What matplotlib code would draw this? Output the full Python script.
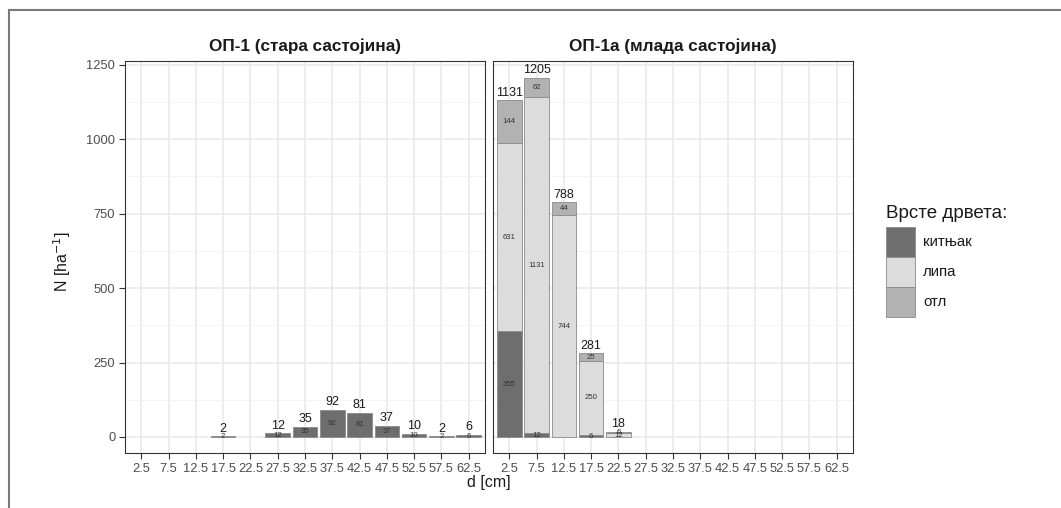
import numpy as np
import matplotlib
matplotlib.use("Agg")
import matplotlib.pyplot as plt
from matplotlib.patches import Rectangle
from matplotlib.lines import Line2D

plt.rcParams['font.family'] = ['Liberation Sans', 'DejaVu Sans']

# Diameter classes (cm)
classes = ["2.5", "7.5", "12.5", "17.5", "22.5", "27.5", "32.5",
           "37.5", "42.5", "47.5", "52.5", "57.5", "62.5"]
species = ["китњак", "липа", "отл"]
colors = ["#6e6e6e", "#dcdcdc", "#b2b2b2"]

# ОП-1 (old stand): trees per hectare by species
old_kitnjak = [0, 0, 0, 2, 0, 12, 35, 92, 81, 37, 10, 2, 6]
old_lipa    = [0] * 13
old_otl     = [0] * 13

# ОП-1а (young stand): trees per hectare by species
young_kitnjak = [355.4, 12, 0, 6, 0, 0, 0, 0, 0, 0, 0, 0, 0]
young_lipa    = [631.3, 1131, 744, 250, 12, 0, 0, 0, 0, 0, 0, 0, 0]
young_otl     = [144.3, 62, 44, 25, 6, 0, 0, 0, 0, 0, 0, 0, 0]

panels = [
    ("ОП-1 (стара састојина)", [old_kitnjak, old_lipa, old_otl]),
    ("ОП-1а (млада састојина)", [young_kitnjak, young_lipa, young_otl]),
]

W, H = 1061, 508
fig = plt.figure(figsize=(W / 100, H / 100), dpi=100)

panel_y0, panel_y1 = 453, 61
lefts = [125, 493]
pw = 360

grid_col = "#e8e8e8"
text_col = "#4d4d4d"
edge_col = "#8a8a8a"
x = np.arange(len(classes))

for i, (title, stacks) in enumerate(panels):
    ax = fig.add_axes([lefts[i] / W, (H - panel_y0) / H, pw / W,
                       (panel_y0 - panel_y1) / H])
    ax.set_xlim(-0.6, len(classes) - 0.4)
    ax.set_ylim(-54, 1263)
    ax.set_yticks([0, 250, 500, 750, 1000, 1250])
    ax.set_yticks([125, 375, 625, 875, 1125], minor=True)
    ax.set_xticks(x)
    ax.set_xticklabels(classes)
    ax.grid(True, which="major", color=grid_col, lw=1.1, zorder=0)
    ax.grid(True, which="minor", axis="y", color="#f2f2f2", lw=0.6, zorder=0)
    ax.set_axisbelow(True)
    for s in ax.spines.values():
        s.set_color("#333333")
        s.set_linewidth(0.8)
    ax.tick_params(axis="both", which="major", length=4, width=0.8,
                   color="#333333", labelcolor=text_col, labelsize=9.3, pad=3)
    ax.tick_params(axis="both", which="minor", length=0)
    if i == 1:
        ax.tick_params(axis="y", which="major", left=False, labelleft=False)
    ax.set_title(title, fontsize=12.3, fontweight="bold", color="#1a1a1a", pad=7)

    bottom = np.zeros(len(classes))
    for vals, col in zip(stacks, colors):
        vals = np.asarray(vals, dtype=float)
        keep = vals > 0
        ax.bar(x[keep], vals[keep], width=0.9, bottom=bottom[keep], color=col,
               edgecolor=edge_col, linewidth=0.6, zorder=2)
        for xi, v, b in zip(x[keep], vals[keep], bottom[keep]):
            ax.text(xi, b + v / 2, f"{v:.0f}", ha="center", va="center",
                    fontsize=5.6, color="#333333", zorder=3)
        bottom += vals
    for xi, tot in zip(x, bottom):
        if tot > 0:
            ax.text(xi, tot + 6, f"{tot:.0f}", ha="center", va="bottom",
                    fontsize=9, color="#1a1a1a", zorder=3)

# axis titles
fig.text(62 / W, (H - 262) / H, "N [ha$^{-1}$]", rotation=90, ha="center",
         va="center", fontsize=11.5, color="#1a1a1a")
fig.text(489 / W, (H - 483) / H, "d [cm]", ha="center", va="center",
         fontsize=11.5, color="#1a1a1a")

# legend: title, keys and labels
fig.text(886 / W, (H - 213) / H, "Врсте дрвета:", ha="left", va="center",
         fontsize=13.5, color="#1a1a1a")
key_x, key_w, key_h, key_top = 886, 29, 30, 227
for k, (name, col) in enumerate(zip(species, colors)):
    top = key_top + k * key_h
    fig.add_artist(Rectangle((key_x / W, (H - top - key_h) / H),
                             key_w / W, key_h / H, transform=fig.transFigure,
                             facecolor=col, edgecolor=edge_col, linewidth=0.6))
    fig.text(923 / W, (H - top - key_h / 2) / H, name, ha="left",
             va="center", fontsize=10.8, color="#1a1a1a")

# outer frame
fig.add_artist(Line2D([9 / W, 1.0], [1 - 10 / H, 1 - 10 / H],
                      transform=fig.transFigure, color="#7a7a7a", lw=1.5))
fig.add_artist(Line2D([9 / W, 9 / W], [0, 1 - 10 / H],
                      transform=fig.transFigure, color="#7a7a7a", lw=1.5))

fig.savefig("out.png", dpi=100, facecolor="white")
